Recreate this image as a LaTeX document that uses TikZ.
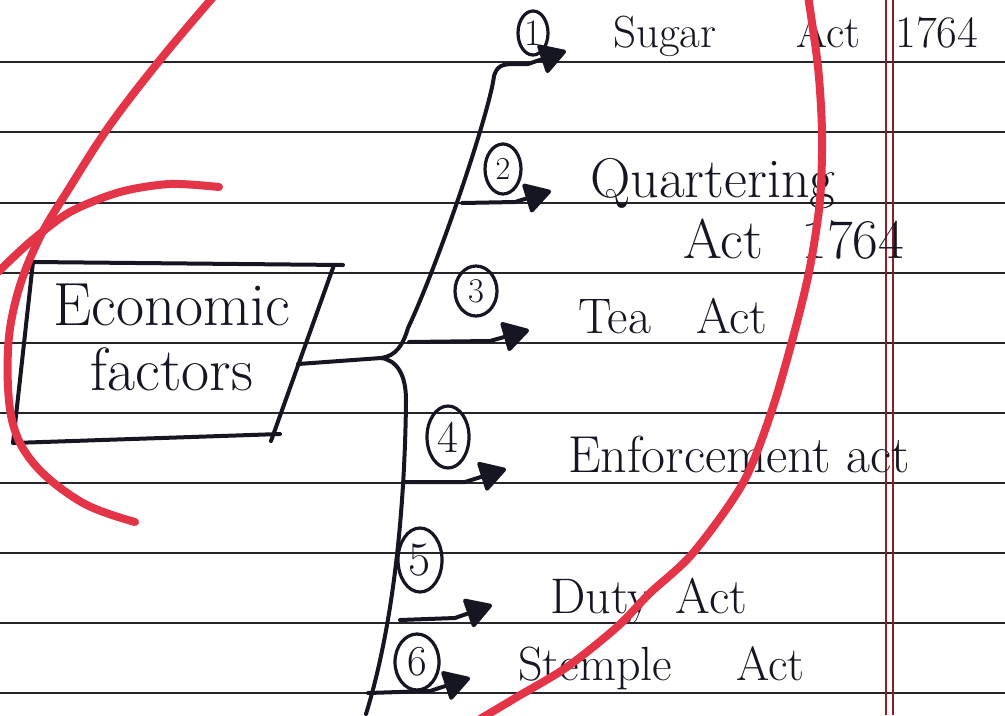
\documentclass[tikz,border=0pt]{standalone}
\usetikzlibrary{arrows.meta,shapes.geometric}
\definecolor{redpen}{RGB}{228,52,72}
\definecolor{ink}{RGB}{22,22,34}
\definecolor{ruleink}{RGB}{38,38,42}
\definecolor{marginink}{RGB}{140,30,42}
\begin{document}
\begin{tikzpicture}[x=0.75pt,y=-0.75pt,
  pen/.style={draw=ink,line width=3pt,line cap=round,line join=round},
  branch/.style={pen,-{Triangle[length=21pt,width=24pt,round]}},
  redstroke/.style={draw=redpen,line width=6pt,line cap=round,line join=round},
  ruleline/.style={draw=ruleink,line width=1.6pt},
  marginline/.style={draw=marginink,line width=1.1pt},
  numbox/.style={ellipse,draw=ink,line width=2.4pt,inner sep=0pt,text=ink},
  actlabel/.style={anchor=base west,inner sep=0pt,text=ink}]
\useasboundingbox (0,0) rectangle (1005,715);
\fill[white] (0,0) rectangle (1005,715);
% ruled paper
\foreach \yy in {62,132,203,273,343,413,483,553,623,693}
  \draw[ruleline] (0,\yy) -- (1005,\yy);
\draw[marginline] (886,0) -- (886,715);
\draw[marginline] (893,0) -- (893,715);

% box
\coordinate (boxTL) at (33,262);
\coordinate (boxTR) at (343,265);
\coordinate (boxRT) at (334,265);
\coordinate (boxRB) at (271,441);
\coordinate (boxBR) at (280,434);
\coordinate (boxBL) at (13,443);
\draw[pen] (boxTL) -- (boxTR);
\draw[pen] (boxRT) -- (boxRB);
\draw[pen] (boxBR) -- (boxBL) -- (boxTL);
\node[anchor=base,inner sep=0pt,text=ink,font=\fontsize{45.75}{48.75}\selectfont] (econ) at (172,325)
  {\vtop{\baselineskip=48.75pt\hbox to 220pt{\hss Economic\hss}\hbox to 220pt{\hss factors\hss}}};

% numbers
\node[numbox,minimum width=22.5pt,minimum height=33pt,font=\fontsize{28}{28}\selectfont] (n1) at (533,33) {1};
\node[numbox,minimum width=27pt,minimum height=37.5pt,font=\fontsize{24}{24}\selectfont] (n2) at (503,169) {2};
\node[numbox,minimum width=31.5pt,minimum height=37.5pt,font=\fontsize{26}{26}\selectfont] (n3) at (476,291) {3};
\node[numbox,minimum width=31.5pt,minimum height=46.5pt,font=\fontsize{34}{34}\selectfont] (n4) at (448,437) {4};
\node[numbox,minimum width=33pt,minimum height=48pt,font=\fontsize{36}{36}\selectfont] (n5) at (420,560) {5};
\node[numbox,minimum width=33pt,minimum height=42pt,font=\fontsize{32}{32}\selectfont] (n6) at (417,662) {6};

% labels
\node[actlabel,font=\fontsize{33.75}{40}\selectfont] (sugar) at (613,47) {Sugar\hspace{60pt}Act\hspace{26pt}1764};
\node[actlabel,font=\fontsize{42}{46}\selectfont] (quart) at (590,197)
  {\vtop{\baselineskip=45.75pt\hbox{Quartering}\hbox{\hspace*{69.75pt}Act\hspace{28.75pt}1764}}};
\node[actlabel,font=\fontsize{37.5}{40}\selectfont] (tea) at (578,333) {Tea\hspace{33.75pt}Act};
\node[actlabel,font=\fontsize{39}{42}\selectfont] (enf) at (568,472) {Enforcement act};
\node[actlabel,font=\fontsize{37.5}{40}\selectfont] (duty) at (550,613) {Duty\hspace{18pt}Act};
\node[actlabel,font=\fontsize{36}{40}\selectfont] (stamp) at (518,680) {Stemple\hspace{48pt}Act};

% connectors
\coordinate (boxR) at (298,364);
\coordinate (J) at (381,358);
\coordinate (t1) at (566,51);
\coordinate (b2) at (462,203); \coordinate (a2) at (515,202); \coordinate (t2) at (551,191);
\coordinate (b3) at (409,342); \coordinate (a3) at (490,341); \coordinate (t3) at (529,330);
\coordinate (b4) at (405,482); \coordinate (a4) at (465,482); \coordinate (t4) at (506,469);
\coordinate (b5) at (400,620); \coordinate (a5) at (455,618); \coordinate (t5) at (492,605);
\coordinate (b6) at (368,693); \coordinate (a6) at (430,691); \coordinate (t6) at (470,678);

\draw[branch] (boxR) -- (J) .. controls (396,356) and (403,345) .. (408,328)
  .. controls (440,260) and (490,110) .. (494,76)
  .. controls (497,66) and (502,64) .. (514,64) -- (528,64) -- (t1);
\draw[pen] (J) .. controls (397,360) and (406,375) .. (406,400)
  .. controls (405,500) and (395,620) .. (366,714);
\draw[branch] (b2) -- (a2) -- (t2);
\draw[branch] (b3) -- (a3) -- (t3);
\draw[branch] (b4) -- (a4) -- (t4);
\draw[branch] (b5) -- (a5) -- (t5);
\draw[branch] (b6) -- (a6) -- (t6);

% red annotations
\draw[redstroke] plot[smooth,tension=0.6] coordinates {(214,-4) (160,60) (110,125) (70,187) (40,237) (18,292) (8,350) (12,420) (35,465) (83,503) (135,522)};
\draw[redstroke] plot[smooth] coordinates {(219,187) (170,184) (120,192) (70,212) (30,242) (-4,274)};
\draw[redstroke] plot[smooth] coordinates {(808,-4) (818,67) (822,133) (820,200) (810,267) (795,330) (772,410) (743,483) (693,553) (650,593) (617,627) (567,667) (517,697) (480,719)};
\end{tikzpicture}
\end{document}
